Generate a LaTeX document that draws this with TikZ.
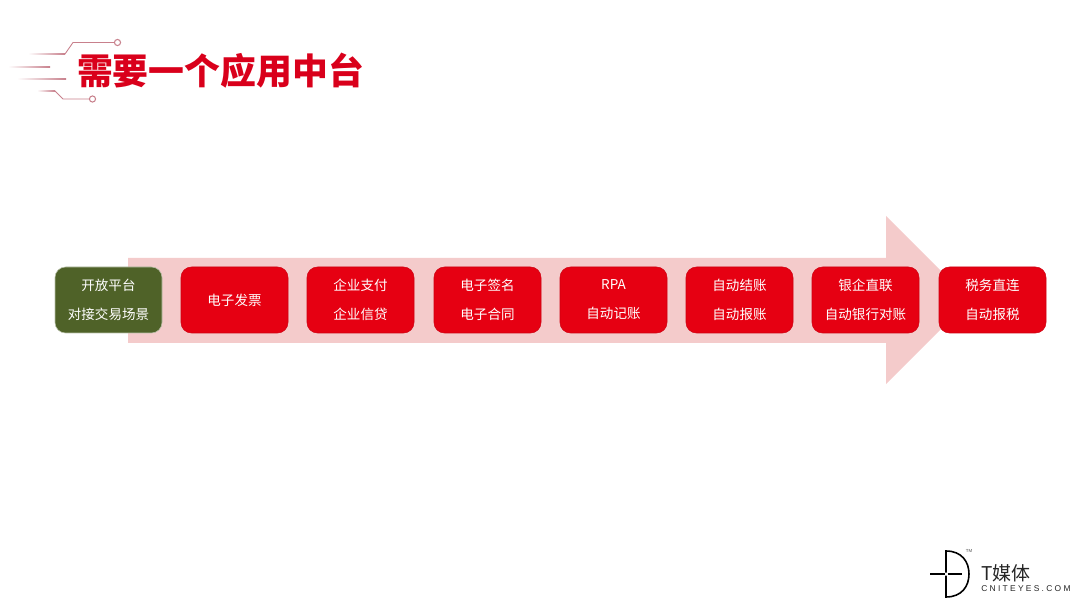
\documentclass[tikz,border=0pt]{standalone}
\usepackage{xcolor}
\usepackage{fontspec}
\usepackage{amsmath}
\setmainfont{Noto Sans CJK SC}
\setsansfont{Liberation Sans}
\newfontfamily\titlefont{Noto Sans CJK SC Black}

\definecolor{boxred}{HTML}{E60012}
\definecolor{boxgreen}{HTML}{4F6228}
\definecolor{arrowpink}{HTML}{F4CBCB}
\definecolor{titlered}{HTML}{D9001B}
\definecolor{wirered}{HTML}{C8808C}

\tikzset{
  stagebox/.style={draw=#1!90!black, line width=0.3pt, fill=#1, rounded corners=6pt, minimum width=107*0.02cm, minimum height=66*0.02cm, inner sep=0pt, text=white, align=center, font=\fontsize{7.7}{16.4}\selectfont},
  wire/.style={draw=wirered, line width=0.5pt},
  wireend/.style={circle, draw=wirered, fill=white, line width=0.6pt, minimum size=3.5pt, inner sep=0pt}
}

\begin{document}
\begin{tikzpicture}[x=0.02cm, y=-0.02cm]
\useasboundingbox (0,0) rectangle (1080,608);

\fill [arrowpink] (128,258) -- (886,258) -- (886,216) -- (970,300) -- (886,384) -- (886,343) -- (128,343) -- cycle;

\node [stagebox=boxgreen, draw=boxgreen!40!white] (open) at (108.5,300) {开放平台\\对接交易场景};
\node [stagebox=boxred] (invoice) at (234.5,300) {电子发票};
\node [stagebox=boxred] (pay) at (360.5,300) {企业支付\\企业信贷};
\node [stagebox=boxred] (sign) at (487.5,300) {电子签名\\电子合同};
\node [stagebox=boxred] (rpa) at (613.5,300) {RPA\\自动记账};
\node [stagebox=boxred] (book) at (739.5,300) {自动结账\\自动报账};
\node [stagebox=boxred] (bank) at (865.5,300) {银企直联\\自动银行对账};
\node [stagebox=boxred] (tax) at (992.5,300) {税务直连\\自动报税};

\node [text=titlered, inner sep=0pt, font=\titlefont\fontsize{20.4}{20.4}\selectfont] (title) at (220.5,71) {需要一个应用中台};

\node [wireend] (wiretop) at (117.5,42.5) {};
\node [wireend] (wirebottom) at (92.5,99) {};
\coordinate (wiretopa) at (65,54);
\coordinate (wiretopb) at (73,42.5);
\coordinate (wirebottoma) at (55,91);
\coordinate (wirebottomb) at (63,99);
\draw [wire] (wiretop) -- (wiretopb) -- (wiretopa);
\draw [wire] (wirebottom) -- (wirebottomb) -- (wirebottoma);
\shade [left color=white, right color=wirered] (28,53.7) rectangle (65,54.3);
\shade [left color=white, right color=wirered] (8,66.7) rectangle (50,67.3);
\shade [left color=white, right color=wirered] (17,78.7) rectangle (66,79.3);
\shade [left color=white, right color=wirered] (37,90.7) rectangle (55,91.3);

\coordinate (logotop) at (946,551);
\coordinate (logobottom) at (946,597);
\coordinate (logoleft) at (930,574);
\coordinate (logoright) at (962,574);
\coordinate (logomida) at (944.5,574);
\coordinate (logomidb) at (947.5,574);
\coordinate (logomidc) at (946,572.5);
\coordinate (logomidd) at (946,575.5);
\draw [line width=0.9pt] (logomidc) -- (logotop) .. controls (962,551) and (969,562) .. (969,574) .. controls (969,586) and (962,597) .. (logobottom) -- (logomidd);
\draw [line width=0.9pt] (logoleft) -- (logomida);
\draw [line width=0.9pt] (logomidb) -- (logoright);
\node [inner sep=0pt, font=\sffamily\fontsize{2.5}{3}\selectfont, text=black!70] (logotm) at (969,551) {TM};
\node [inner sep=0pt, anchor=west, font=\fontsize{10.8}{11}\selectfont, text=black!85] (logoname) at (981,573) {T媒体};
\node [inner sep=0pt, anchor=west, font=\sffamily\fontsize{4.8}{5}\selectfont, text=black!85] (logourl) at (981,588.5) {\addfontfeature{LetterSpace=27}CNITEYES.COM};
\end{tikzpicture}
\end{document}
